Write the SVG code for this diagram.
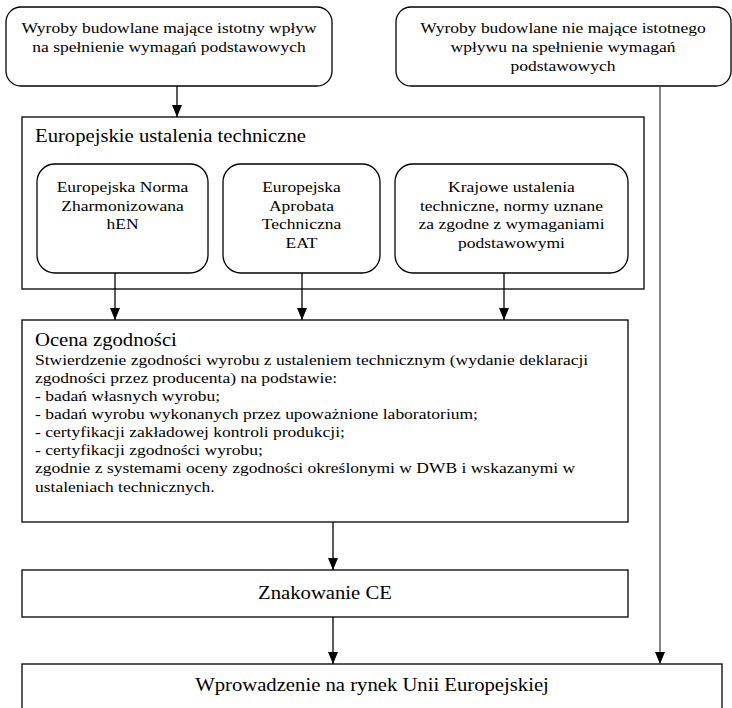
<svg xmlns="http://www.w3.org/2000/svg" width="732" height="708" viewBox="0 0 732 708">
<defs>
<marker id="ah" markerWidth="12" markerHeight="10" refX="12" refY="5" orient="auto" markerUnits="userSpaceOnUse" viewBox="0 0 12 10">
<path d="M0,0 L12,5 L0,10 Z" fill="#000"/>
</marker>
<style>
.box{fill:#fff;stroke:#000;stroke-width:1.3}
.t{font-family:"Liberation Serif","Times New Roman",serif;font-size:15.5px;fill:#000}
.c{text-anchor:middle}
.h{font-size:18px}
.con{stroke:#000;stroke-width:1.3;fill:none}
.gray{stroke:#444}
</style>
</defs>
<rect width="732" height="708" fill="#fff"/>
<g id="n1">
<rect class="box" x="6" y="7" width="326" height="79" rx="15"/>
<text class="t c" transform="translate(169,33) scale(1.13,1)">Wyroby budowlane mające istotny wpływ</text>
<text class="t c" transform="translate(169,52) scale(1.13,1)">na spełnienie wymagań podstawowych</text>
</g>
<g id="n2">
<rect class="box" x="396" y="7" width="335" height="79" rx="15"/>
<text class="t c" transform="translate(563,33) scale(1.13,1)">Wyroby budowlane nie mające istotnego</text>
<text class="t c" transform="translate(563,52) scale(1.13,1)">wpływu na spełnienie wymagań</text>
<text class="t c" transform="translate(563,71) scale(1.13,1)">podstawowych</text>
</g>
<g id="n3">
<rect class="box" x="22" y="117" width="622" height="172"/>
<text class="t h" transform="translate(35,142) scale(1.15,1)">Europejskie ustalenia techniczne</text>
</g>
<g id="n4">
<rect class="box" x="37" y="164" width="171" height="109" rx="18"/>
<text class="t c" transform="translate(122.5,192) scale(1.13,1)">Europejska Norma</text>
<text class="t c" transform="translate(122.5,211) scale(1.13,1)">Zharmonizowana</text>
<text class="t c" transform="translate(122.5,229) scale(1.13,1)">hEN</text>
</g>
<g id="n5">
<rect class="box" x="223" y="164" width="157" height="109" rx="18"/>
<text class="t c" transform="translate(301.5,192) scale(1.13,1)">Europejska</text>
<text class="t c" transform="translate(301.5,211) scale(1.13,1)">Aprobata</text>
<text class="t c" transform="translate(301.5,229) scale(1.13,1)">Techniczna</text>
<text class="t c" transform="translate(301.5,248) scale(1.13,1)">EAT</text>
</g>
<g id="n6">
<rect class="box" x="395" y="164" width="233" height="109" rx="18"/>
<text class="t c" transform="translate(511.5,192) scale(1.13,1)">Krajowe ustalenia</text>
<text class="t c" transform="translate(511.5,211) scale(1.13,1)">techniczne, normy uznane</text>
<text class="t c" transform="translate(511.5,229) scale(1.13,1)">za zgodne z wymaganiami</text>
<text class="t c" transform="translate(511.5,248) scale(1.13,1)">podstawowymi</text>
</g>
<g id="n7">
<rect class="box" x="22" y="320" width="606" height="202"/>
<text class="t h" transform="translate(35,346) scale(1.15,1)">Ocena zgodności</text>
<text class="t" transform="translate(35,365) scale(1.13,1)">Stwierdzenie zgodności wyrobu z ustaleniem technicznym (wydanie deklaracji</text>
<text class="t" transform="translate(35,383) scale(1.13,1)">zgodności przez producenta) na podstawie:</text>
<text class="t" transform="translate(35,401) scale(1.13,1)">- badań własnych wyrobu;</text>
<text class="t" transform="translate(35,419) scale(1.13,1)">- badań wyrobu wykonanych przez upoważnione laboratorium;</text>
<text class="t" transform="translate(35,437) scale(1.13,1)">- certyfikacji zakładowej kontroli produkcji;</text>
<text class="t" transform="translate(35,455) scale(1.13,1)">- certyfikacji zgodności wyrobu;</text>
<text class="t" transform="translate(35,473) scale(1.13,1)">zgodnie z systemami oceny zgodności określonymi w DWB i wskazanymi w</text>
<text class="t" transform="translate(35,492) scale(1.13,1)">ustaleniach technicznych.</text>
</g>
<g id="n8">
<rect class="box" x="22" y="570" width="606" height="47"/>
<text class="t h c" transform="translate(325,599) scale(1.15,1)">Znakowanie CE</text>
</g>
<g id="n9">
<rect class="box" x="22" y="664" width="700" height="60"/>
<text class="t h c" transform="translate(372,691) scale(1.15,1)">Wprowadzenie na rynek Unii Europejskiej</text>
</g>
<g id="connectors">
<line class="con" x1="177" y1="86" x2="177" y2="117" marker-end="url(#ah)"/>
<line class="con" x1="115" y1="273" x2="115" y2="320" marker-end="url(#ah)"/>
<line class="con" x1="302" y1="273" x2="302" y2="320" marker-end="url(#ah)"/>
<line class="con" x1="504" y1="273" x2="504" y2="320" marker-end="url(#ah)"/>
<line class="con" x1="333" y1="522" x2="333" y2="570" marker-end="url(#ah)"/>
<line class="con" x1="333" y1="617" x2="333" y2="664" marker-end="url(#ah)"/>
<line class="con gray" x1="660" y1="86" x2="660" y2="664" marker-end="url(#ah)"/>
</g>
</svg>
